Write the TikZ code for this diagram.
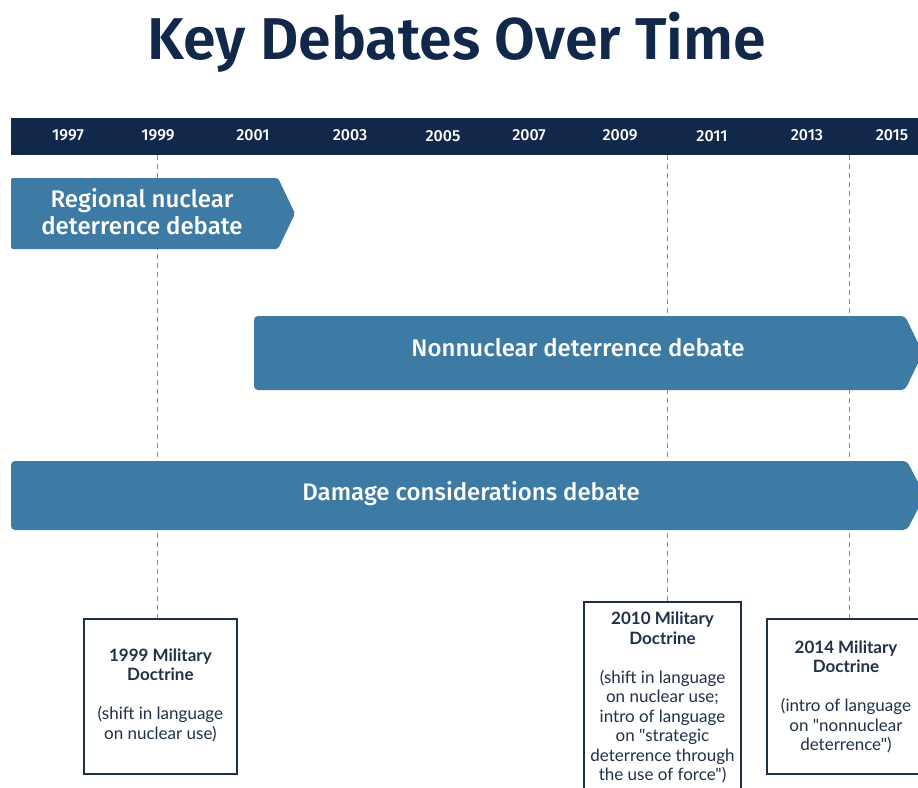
\documentclass[tikz,border=0pt]{standalone}
\usepackage{fontspec}
\newfontfamily\latofont{Lato}[Ligatures=ResetAll]
\newfontfamily\latobold{Lato Bold}[Ligatures=ResetAll]
\newfontfamily\firamed{Fira Sans Medium}
\newfontfamily\firasemi{Fira Sans SemiBold}
\definecolor{navy}{HTML}{12284A}
\definecolor{barblue}{HTML}{3D7AA4}
\definecolor{boxline}{HTML}{1F3149}
\definecolor{dashgray}{HTML}{8C8C8C}
\newcommand{\hd}[1]{{\latobold #1}}
\tikzset{
  yearlbl/.style={text=white, font=\firamed\fontsize{16}{16}\selectfont, inner sep=0pt},
  bartext/.style={text=white, font=\firamed\fontsize{24}{27}\selectfont, align=center, inner sep=0pt},
  debatebar/.style={fill=barblue, draw=none},
  docbox/.style={draw=boxline, line width=1.8pt, fill=white},
  doctext/.style={text=boxline, align=center, inner sep=0pt, font=\latofont\fontsize{17}{19.5}\selectfont},
  guide/.style={draw=dashgray, line width=1pt, dash pattern=on 5pt off 4pt},
}
\begin{document}
\begin{tikzpicture}[x=1pt, y=-1pt]
\useasboundingbox (0,0) rectangle (918,787);
\clip (0,0) rectangle (918,787);
% title
\node (title) at (457,42) {\textcolor{navy}{\firasemi\fontsize{59}{59}\selectfont Key Debates Over Time}};
% band
\fill[navy] (11,118) rectangle (925,155);
\node[yearlbl] (y1997) at (68,135) {1997};
\node[yearlbl] (y1999) at (158,135) {1999};
\node[yearlbl] (y2001) at (253,135) {2001};
\node[yearlbl] (y2003) at (350,135) {2003};
\node[yearlbl] (y2005) at (443,136) {2005};
\node[yearlbl] (y2007) at (529,135) {2007};
\node[yearlbl] (y2009) at (620,135) {2009};
\node[yearlbl] (y2011) at (712,136) {2011};
\node[yearlbl] (y2013) at (807,135) {2013};
\node[yearlbl] (y2015) at (892,135) {2015};
% guide endpoints
\coordinate (g1) at (157,155);
\coordinate (g2) at (667,155);
\coordinate (g3) at (849,155);
% doc boxes
\node[docbox, minimum width=153pt, minimum height=155pt, anchor=north west] (d1999) at (83,618) {};
\draw[docbox] (584,602) rectangle (741,800);
\coordinate (d2010) at (662.5,602);
\node[docbox, minimum width=154pt, minimum height=155pt, anchor=north west] (d2014) at (766,618) {};
% guides
\draw[guide] (g1) -- (d1999.north -| g1);
\draw[guide] (g2) -- (d2010 -| g2);
\draw[guide] (g3) -- (d2014.north -| g3);
% bars
\fill[debatebar, rounded corners=2pt] (11,178) -- (278,178) -- (295,213.5) -- (278,249) -- (11,249) -- cycle;
\node[bartext] (regional) at (142,212) {Regional nuclear\\deterrence debate};
\fill[debatebar, rounded corners=4pt] (254,316) -- (905,316) -- (923,353) -- (905,390) -- (254,390) -- cycle;
\node[bartext] (nonnuc) at (578,348) {Nonnuclear deterrence debate};
\fill[debatebar, rounded corners=4pt] (11,461) -- (907,461) -- (925,495.5) -- (907,530) -- (11,530) -- cycle;
\node[bartext] (damage) at (471,494) {Damage considerations debate};
% doc texts
\node[doctext] (t1999) at ([yshift=1pt]d1999.center) {\hd{1999 Military}\\\hd{Doctrine}\\[19.5pt](shift in language\\on nuclear use)};
\node[doctext, anchor=north] (t2010) at (662.5,612) {\hd{2010 Military}\\\hd{Doctrine}\\[19.5pt](shift in language\\on nuclear use;\\intro of language\\on "strategic\\deterrence through\\the use of force")};
\node[doctext] (t2014) at (846,697) {\hd{2014 Military}\\\hd{Doctrine}\\[19.5pt](intro of language\\on "nonnuclear\\deterrence")};
\end{tikzpicture}
\end{document}
